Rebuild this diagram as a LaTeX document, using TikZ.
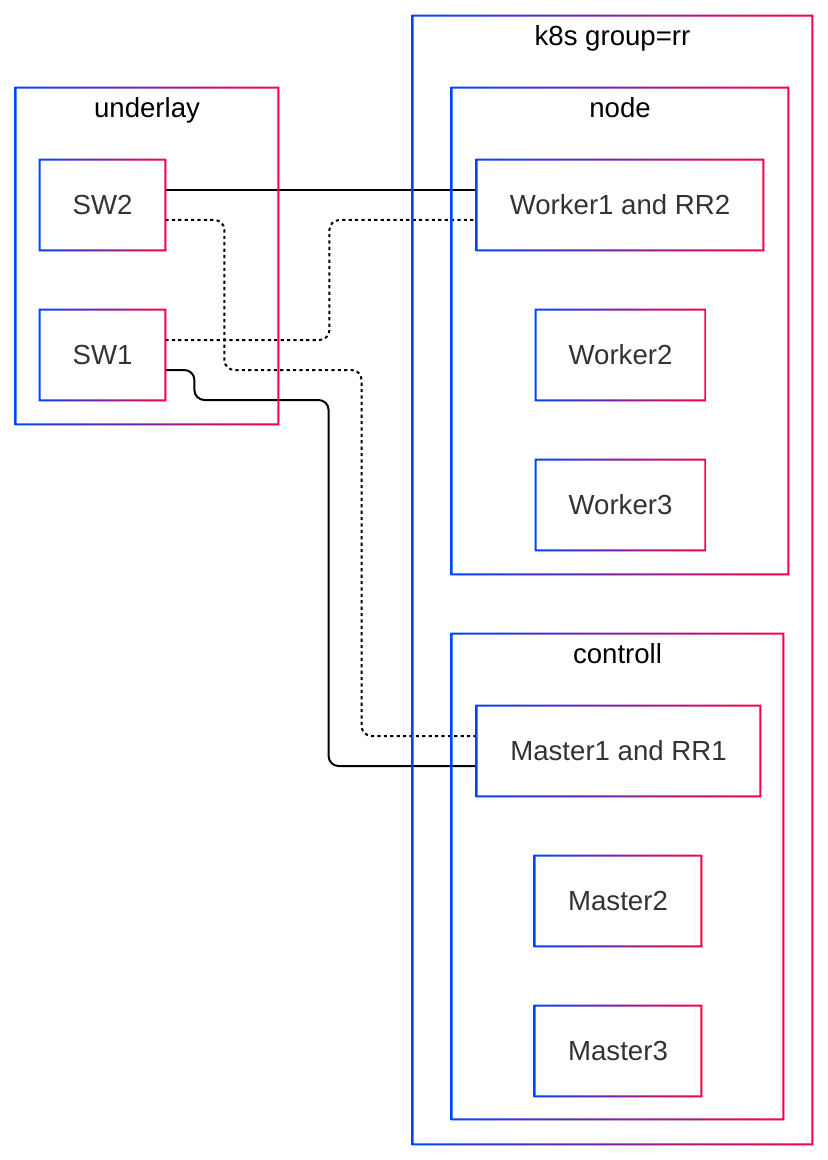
\documentclass[tikz,border=0pt]{standalone}
\usepackage{fontspec}
\setmainfont{Liberation Sans}
\usepackage{tikz}
\usetikzlibrary{calc}
\usetikzlibrary{shadows}
\definecolor{gblue}{RGB}{0,68,255}
\definecolor{gred}{RGB}{255,0,72}
\definecolor{labelgray}{RGB}{51,51,51}
\newcommand{\gradframe}[1]{%
	\shade[left color=gblue,right color=gred,even odd rule]
		($(#1.north west)+(-.5pt,.5pt)$) rectangle ($(#1.south east)+(.5pt,-.5pt)$)
		($(#1.north west)+(.5pt,-.5pt)$) rectangle ($(#1.south east)+(-.5pt,.5pt)$);}

\begin{document}
\begin{tikzpicture}[x=.5pt,y=-.5pt,
	font=\fontsize{13.8pt}{16pt}\selectfont,
	frame/.style={rectangle,fill=white,inner sep=0pt,
		drop shadow={opacity=.12,shadow xshift=.8pt,shadow yshift=-1.2pt}},
	box/.style={frame,text=labelgray,minimum height=45pt},
	title/.style={anchor=base,text=black},
	link/.style={line width=1pt,rounded corners=5pt},
	dots/.style={link,dash pattern=on 1.6pt off 1.6pt}]
	\useasboundingbox (0,0) rectangle (828,1160);
	% groups
	\node[frame,minimum width=131pt,minimum height=168pt] (underlay) at (147,256) {};
	\node[frame,minimum width=199.5pt,minimum height=564pt] (k8s) at (612.5,580) {};
	\node[frame,minimum width=168pt,minimum height=243pt] (workers) at (620,331) {};
	\node[frame,minimum width=165.5pt,minimum height=242.5pt] (controll) at (617.5,876.5) {};
	\node[title] (underlay-t) at ($(underlay.north)+(0,30)$) {underlay};
	\node[title] (k8s-t) at ($(k8s.north)+(0,30)$) {k8s group=rr};
	\node[title] (workers-t) at ($(workers.north)+(0,30)$) {node};
	\node[title] (controll-t) at ($(controll.north)+(0,30)$) {controll};
	% boxes
	\node[box,minimum width=62.5pt] (sw2) at (102.5,205) {SW2};
	\node[box,minimum width=62.5pt] (sw1) at (102.5,355) {SW1};
	\node[box,minimum width=143pt] (worker1) at (620,205) {Worker1 and RR2};
	\node[box,minimum width=84.5pt] (worker2) at (620.5,355) {Worker2};
	\node[box,minimum width=84.5pt] (worker3) at (620.5,505) {Worker3};
	\node[box,minimum width=141.5pt] (master1) at (618.5,751) {Master1 and RR1};
	\node[box,minimum width=83pt] (master2) at (618,901) {Master2};
	\node[box,minimum width=83pt] (master3) at (618,1051) {Master3};
	% links
	\draw[link] ($(sw2.east)+(0,-15)$) -- ($(worker1.west)+(0,-15)$);
	\draw[dots] ($(sw2.east)+(0,15)$) -- ++(59,0) -- ++(0,150) -| ($(master1.west)+(-115,-15)$) -- ($(master1.west)+(0,-15)$);
	\draw[dots] ($(sw1.east)+(0,-15)$) -- ++(164,0) |- ($(worker1.west)+(0,15)$);
	\draw[link] ($(sw1.east)+(0,15)$) -- ++(29,0) -- ++(0,30) -| ($(master1.west)+(-148,15)$) -- ($(master1.west)+(0,15)$);
	% frames
	\gradframe{underlay}
	\gradframe{k8s}
	\gradframe{workers}
	\gradframe{controll}
	\gradframe{sw2}
	\gradframe{sw1}
	\gradframe{worker1}
	\gradframe{worker2}
	\gradframe{worker3}
	\gradframe{master1}
	\gradframe{master2}
	\gradframe{master3}
\end{tikzpicture}
\end{document}
